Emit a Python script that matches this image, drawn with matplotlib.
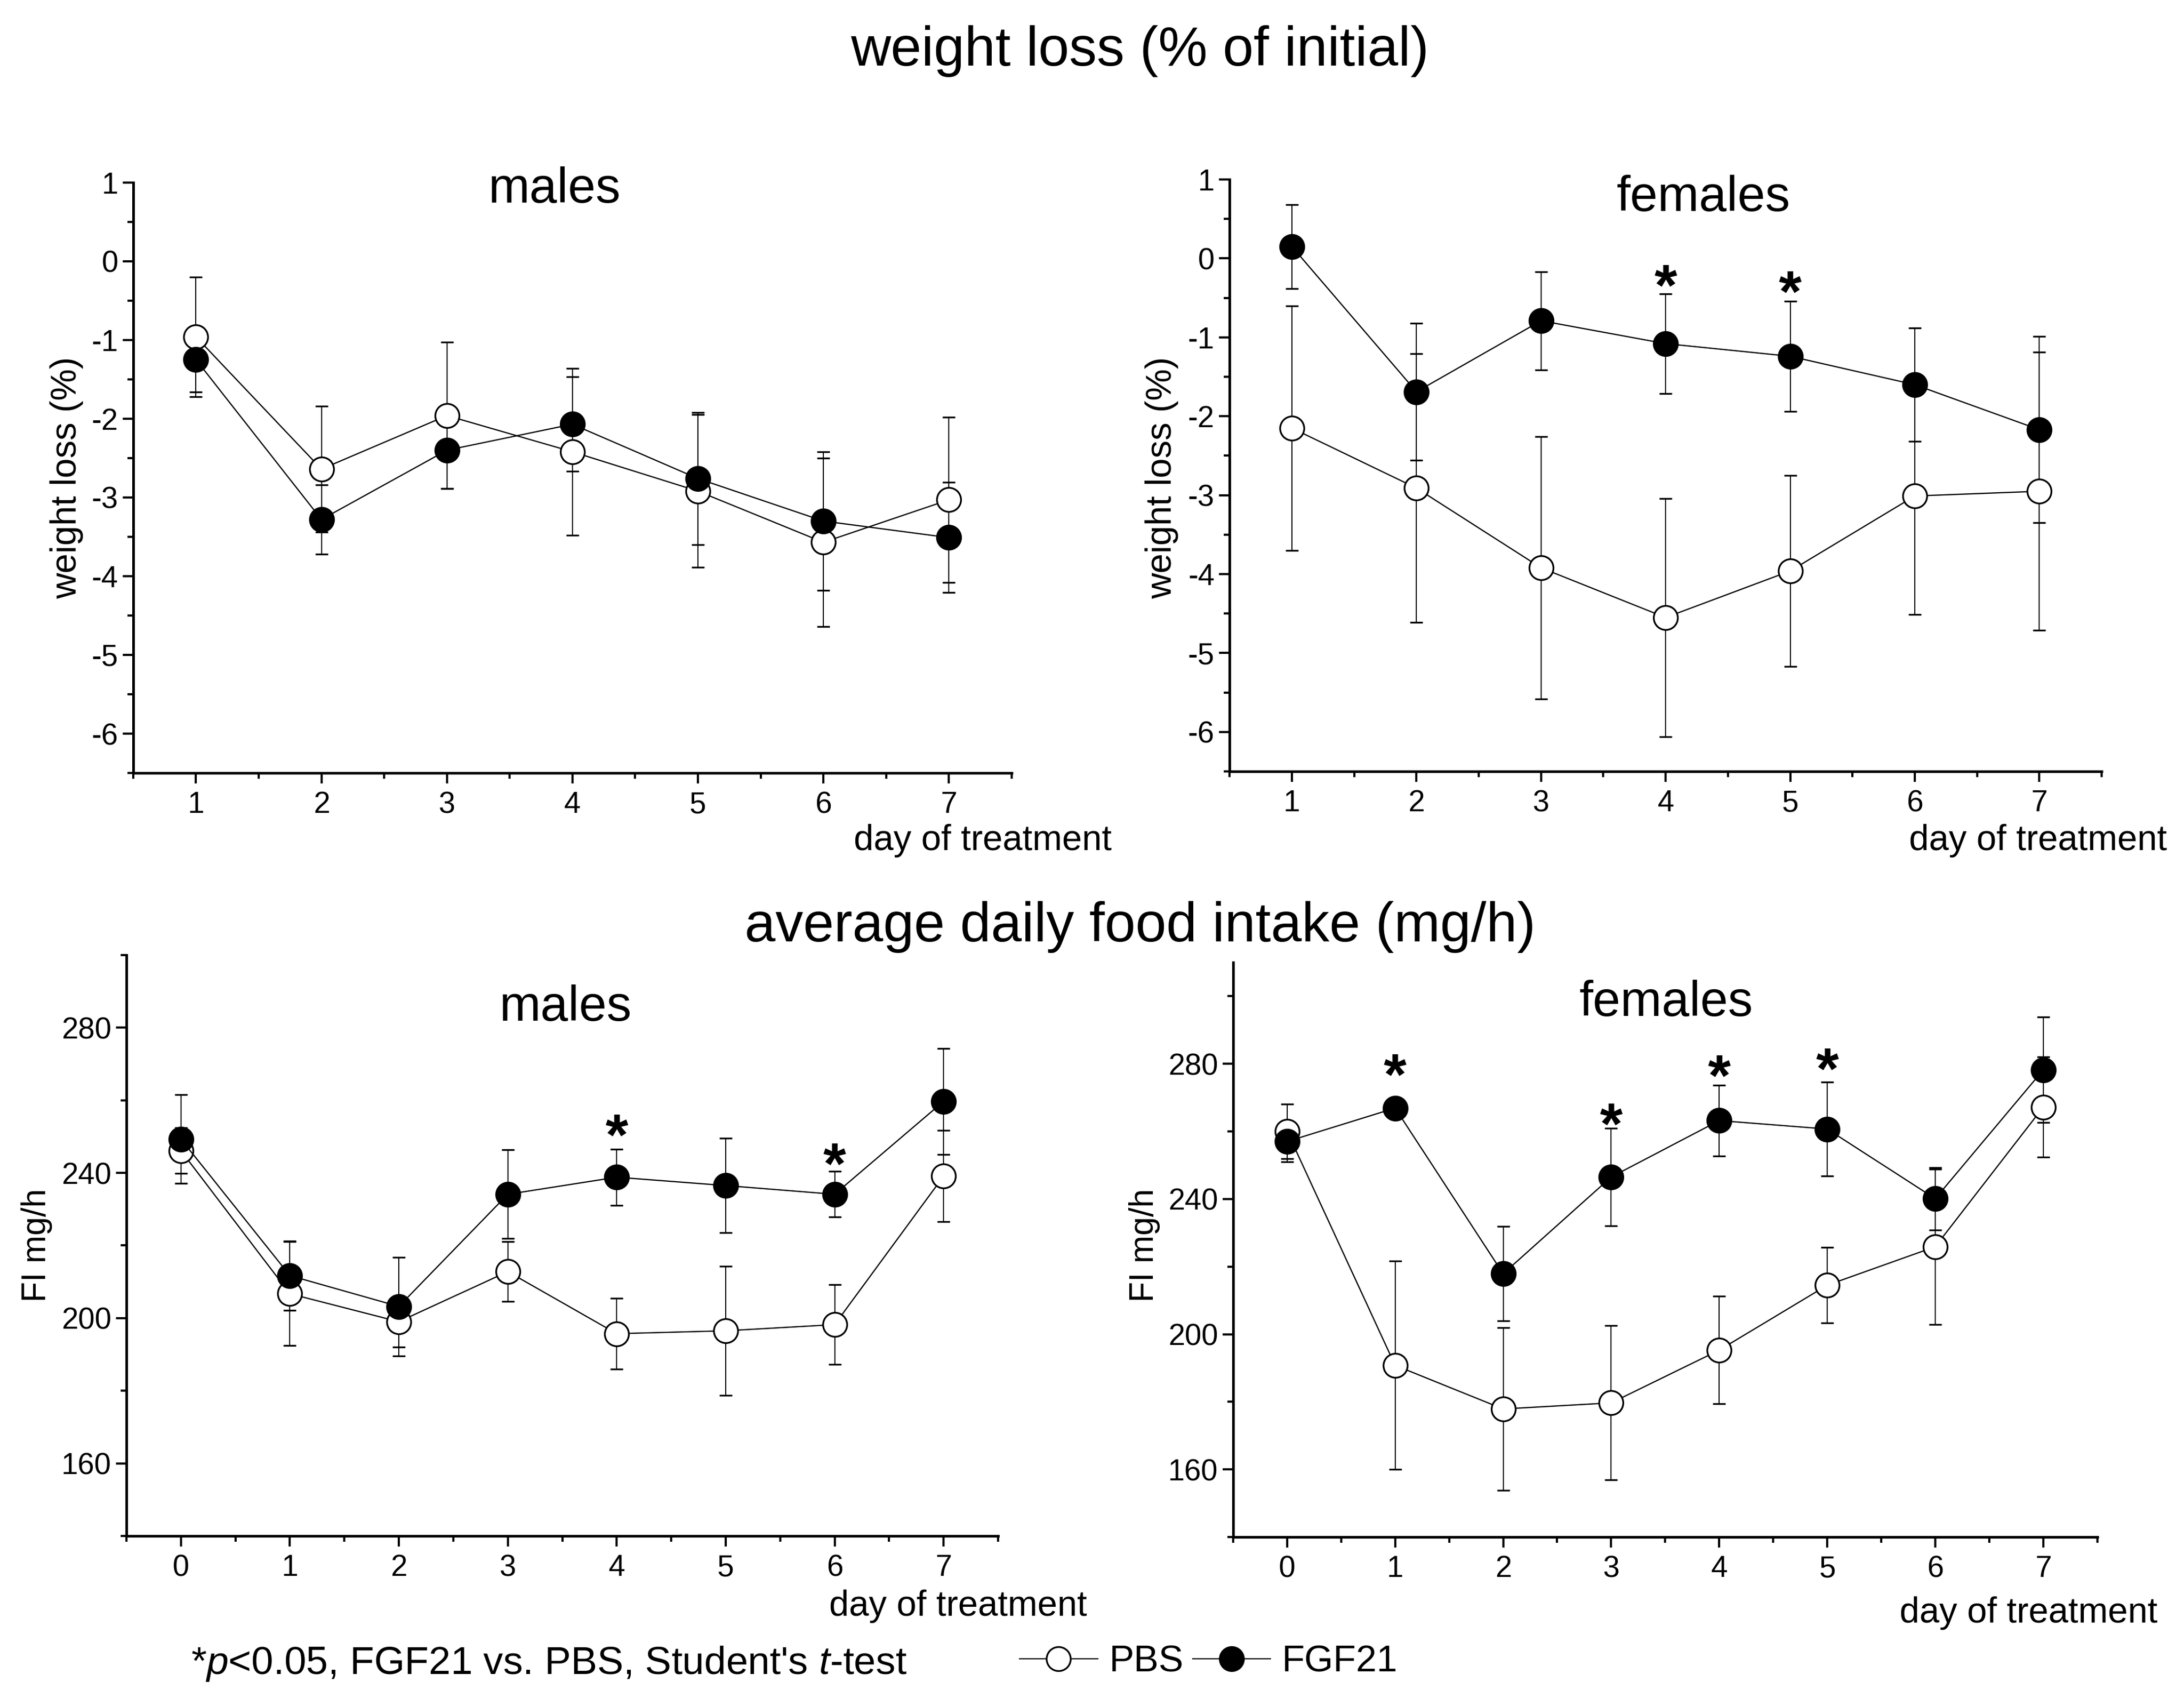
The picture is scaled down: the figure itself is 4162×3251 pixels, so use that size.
import matplotlib
matplotlib.use("Agg")
import matplotlib.pyplot as plt
from matplotlib.ticker import MultipleLocator

plt.rcParams['font.family'] = ['Liberation Sans', 'DejaVu Sans']
plt.rcParams['mathtext.fontset'] = 'custom'
plt.rcParams['mathtext.rm'] = 'Liberation Sans'
plt.rcParams['mathtext.it'] = 'Liberation Sans:italic'
plt.rcParams['axes.unicode_minus'] = False

# weight loss (% of initial), days 1-7
days_wl = [1, 2, 3, 4, 5, 6, 7]
wl_m_pbs = [-0.96, -2.64, -1.96, -2.42, -2.92, -3.57, -3.03]
wl_m_pbs_err = [0.76, 0.80, 0.93, 1.06, 0.97, 1.07, 1.05]
wl_m_fgf = [-1.25, -3.28, -2.40, -2.07, -2.76, -3.30, -3.51]
wl_m_fgf_err = [0.41, 0.44, 0.49, 0.60, 0.84, 0.88, 0.70]

wl_f_pbs = [-2.15, -2.91, -3.92, -4.55, -3.96, -3.01, -2.95]
wl_f_pbs_err = [1.55, 1.70, 1.66, 1.51, 1.21, 1.50, 1.76]
wl_f_fgf = [0.15, -1.69, -0.79, -1.08, -1.24, -1.60, -2.17]
wl_f_fgf_err = [0.53, 0.87, 0.62, 0.63, 0.70, 0.72, 1.18]
wl_f_star_x = [4, 5]
wl_f_star_y = [-0.17, -0.25]

# average daily food intake (mg/h), days 0-7
days_fi = [0, 1, 2, 3, 4, 5, 6, 7]
fi_m_pbs = [246.1, 206.7, 199.0, 212.8, 195.7, 196.5, 198.2, 239.1]
fi_m_pbs_err = [6.3, 14.3, 7.0, 8.2, 9.8, 17.8, 11.0, 12.6]
fi_m_fgf = [249.3, 211.7, 203.2, 234.1, 238.8, 236.5, 234.1, 259.7]
fi_m_fgf_err = [12.2, 9.5, 13.6, 12.2, 7.7, 13.0, 6.3, 14.6]
fi_m_star_x = [4, 6]
fi_m_star_y = [254.2, 246.2]

fi_f_pbs = [260.0, 190.8, 177.9, 179.7, 195.3, 214.5, 225.9, 267.2]
fi_f_pbs_err = [8.0, 30.8, 24.0, 22.8, 15.9, 11.2, 23.0, 14.8]
fi_f_fgf = [257.0, 266.9, 217.9, 246.5, 263.2, 260.7, 240.1, 278.2]
fi_f_fgf_err = [6.0, 0.5, 14.0, 14.5, 10.5, 13.9, 9.2, 15.6]
fi_f_star_x = [1, 3, 4, 5]
fi_f_star_y = [280.7, 266.2, 280.4, 282.5]

STAR_FS = 40


def draw_panel(ax, days, pbs, pbs_err, fgf, fgf_err, star_x, star_y):
    for m, e in ((pbs, pbs_err), (fgf, fgf_err)):
        ax.errorbar(days, m, yerr=e, fmt='none', ecolor='black',
                    elinewidth=0.75, capsize=4.3, capthick=1.2, zorder=1)
    l_pbs, = ax.plot(days, pbs, '-o', color='black', lw=0.85, ms=16.5,
                     mfc='white', mec='black', mew=1.2, zorder=3)
    l_fgf, = ax.plot(days, fgf, '-o', color='black', lw=0.85, ms=16.5,
                     mfc='black', mec='black', mew=1.2, zorder=4)
    # significance stars, glyph centred on the given value
    for sx, sy in zip(star_x, star_y):
        ax.annotate('*', xy=(sx, sy), xytext=(0, -0.57 * STAR_FS),
                    textcoords='offset points', ha='center', va='baseline',
                    fontsize=STAR_FS, fontweight='bold')
    ax.spines[['top', 'right']].set_visible(False)
    for s in ('left', 'bottom'):
        ax.spines[s].set_linewidth(1.8)
    ax.tick_params(which='major', direction='out', length=7.3, width=1.5,
                   labelsize=20.5)
    ax.tick_params(which='minor', direction='out', length=4, width=1.5)
    ax.tick_params(axis='x', which='both', pad=5)
    ax.tick_params(axis='y', which='both', pad=3)
    ax.xaxis.set_major_locator(MultipleLocator(1))
    ax.xaxis.set_minor_locator(MultipleLocator(0.5))
    return l_pbs, l_fgf


fig = plt.figure(figsize=(20.81, 16.255), dpi=200)

ax1 = fig.add_axes([0.0610, 0.5469, 0.4022, 0.3461])
ax2 = fig.add_axes([0.5630, 0.5478, 0.3993, 0.3470])
ax3 = fig.add_axes([0.0579, 0.0997, 0.3991, 0.3405])
ax4 = fig.add_axes([0.5646, 0.0990, 0.3957, 0.3369])

l_pbs, l_fgf = draw_panel(ax1, days_wl, wl_m_pbs, wl_m_pbs_err, wl_m_fgf, wl_m_fgf_err, [], [])
draw_panel(ax2, days_wl, wl_f_pbs, wl_f_pbs_err, wl_f_fgf, wl_f_fgf_err, wl_f_star_x, wl_f_star_y)
draw_panel(ax3, days_fi, fi_m_pbs, fi_m_pbs_err, fi_m_fgf, fi_m_fgf_err, fi_m_star_x, fi_m_star_y)
draw_panel(ax4, days_fi, fi_f_pbs, fi_f_pbs_err, fi_f_fgf, fi_f_fgf_err, fi_f_star_x, fi_f_star_y)

for ax in (ax1, ax2):
    ax.set_xlim(0.5, 7.5)
    ax.set_ylim(-6.5, 1)
    ax.yaxis.set_major_locator(MultipleLocator(1))
    ax.yaxis.set_minor_locator(MultipleLocator(0.5))
for ax, top in ((ax3, 300), (ax4, 310)):
    ax.set_xlim(-0.5, 7.5)
    ax.set_ylim(140, top)
    ax.set_yticks([160, 200, 240, 280])
    ax.yaxis.set_minor_locator(MultipleLocator(20))

# headings
fig.text(0.522, 0.970, 'weight loss (% of initial)', ha='center', va='center', fontsize=38)
fig.text(0.522, 0.4567, 'average daily food intake (mg/h)', ha='center', va='center', fontsize=38)

fig.text(0.254, 0.8813, 'males', ha='center', va='baseline', fontsize=34)
fig.text(0.780, 0.8763, 'females', ha='center', va='baseline', fontsize=34)
fig.text(0.259, 0.4017, 'males', ha='center', va='baseline', fontsize=34)
fig.text(0.763, 0.4045, 'females', ha='center', va='baseline', fontsize=34)

# axis labels
fig.text(0.391, 0.5017, 'day of treatment', ha='left', va='baseline', fontsize=24.5)
fig.text(0.874, 0.5017, 'day of treatment', ha='left', va='baseline', fontsize=24.5)
fig.text(0.3797, 0.0529, 'day of treatment', ha='left', va='baseline', fontsize=24.5)
fig.text(0.8698, 0.0489, 'day of treatment', ha='left', va='baseline', fontsize=24.5)

fig.text(0.0305, 0.720, 'weight loss (%)', rotation=90, ha='center', va='center', fontsize=24.5)
fig.text(0.532, 0.720, 'weight loss (%)', rotation=90, ha='center', va='center', fontsize=24.5)
fig.text(0.0168, 0.270, 'FI mg/h', rotation=90, ha='center', va='center', fontsize=23)
fig.text(0.524, 0.270, 'FI mg/h', rotation=90, ha='center', va='center', fontsize=23)

# footnote and legend
fig.text(0.0875, 0.0188, "*$p$<0.05, FGF21 vs. PBS, Student's $t$-test",
         ha='left', va='baseline', fontsize=27)
fig.legend(handles=[l_pbs, l_fgf], labels=['PBS', 'FGF21'], loc='center left',
           bbox_to_anchor=(0.4668, 0.0256), ncol=2, frameon=False, fontsize=25.5,
           handlelength=2.1, handletextpad=0.3, columnspacing=0.25,
           borderpad=0, borderaxespad=0, numpoints=1)

fig.savefig('out.png', dpi=200)
